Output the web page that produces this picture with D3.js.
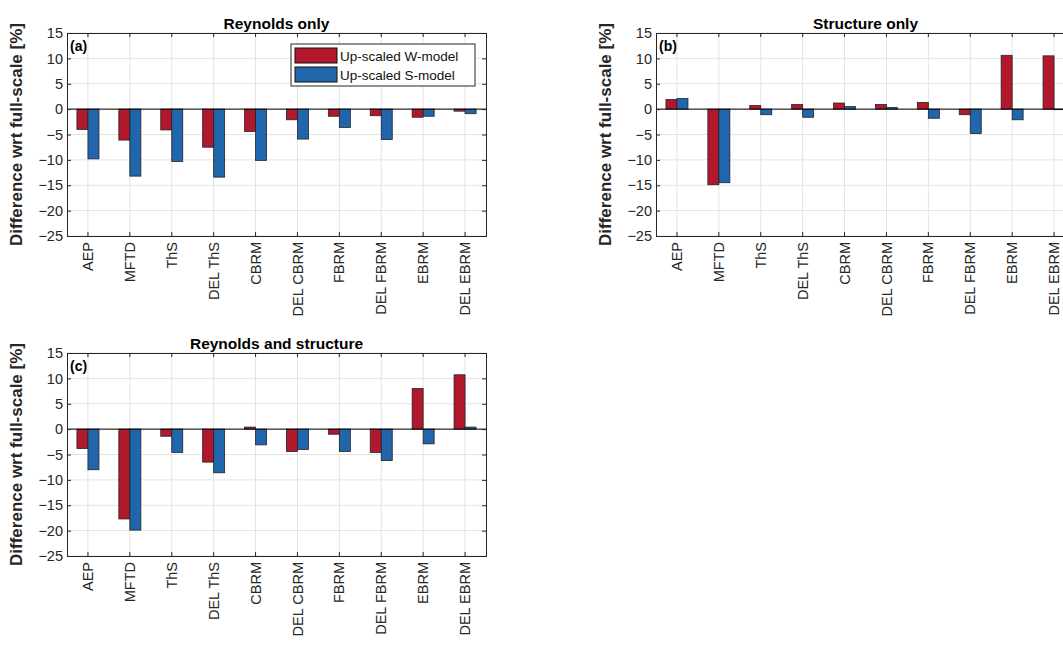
<!DOCTYPE html>
<html><head><meta charset="utf-8">
<script src="https://cdn.jsdelivr.net/npm/d3@7"></script>
<style>body{margin:0;background:#fff}svg{display:block;font-family:"Liberation Sans",Arial,sans-serif}</style>
</head><body><svg id="c" width="1063" height="647"></svg>
<script>
const categories=["AEP","MFTD","ThS","DEL ThS","CBRM","DEL CBRM","FBRM","DEL FBRM","EBRM","DEL EBRM"];
const yTicks=[15,10,5,0,-5,-10,-15,-20,-25];
const seriesNames=["Up-scaled W-model","Up-scaled S-model"];
const colors=["#B2182B","#2166AC"];
const aW=[-4,-6.1,-4.1,-7.5,-4.4,-2.1,-1.4,-1.3,-1.6,-0.4];
const aS=[-9.8,-13.2,-10.3,-13.4,-10.1,-5.9,-3.6,-6,-1.4,-0.9];
const bW=[1.9,-14.9,0.7,0.9,1.2,0.9,1.3,-1.1,10.6,10.5];
const bS=[2.1,-14.5,-1.1,-1.6,0.5,0.3,-1.8,-4.8,-2.1,-0.1];
const cW=[-3.8,-17.7,-1.4,-6.5,0.4,-4.4,-1,-4.6,8,10.7];
const cS=[-8,-19.9,-4.6,-8.6,-3.1,-4,-4.4,-6.2,-2.9,0.4];
const panels=[
 {x:67,y:33,title:"Reynolds only",tag:"(a)",data:[aW,aS],legend:true},
 {x:656,y:33,title:"Structure only",tag:"(b)",data:[bW,bS]},
 {x:67,y:353,title:"Reynolds and structure",tag:"(c)",data:[cW,cS]}
];
const svg=d3.select("#c"),W=419,H=203;
panels.forEach(p=>{
 const g=svg.append("g").attr("transform",`translate(${p.x},${p.y})`);
 const x=d3.scaleBand().domain(categories).range([0,W]);
 const y=d3.scaleLinear().domain([-25,15]).range([H,0]);
 const bw=11;
 g.append("g").selectAll("line").data(yTicks).join("line").attr("x1",0).attr("x2",W)
  .attr("y1",d=>y(d)).attr("y2",d=>y(d)).attr("stroke","#e3e3e3");
 g.append("g").selectAll("line").data(categories).join("line").attr("y1",0).attr("y2",H)
  .attr("x1",d=>x(d)+x.bandwidth()/2).attr("x2",d=>x(d)+x.bandwidth()/2).attr("stroke","#e3e3e3");
 p.data.forEach((s,si)=>{
  g.append("g").selectAll("rect").data(s).join("rect")
   .attr("x",(d,i)=>x(categories[i])+x.bandwidth()/2+(si?0:-bw))
   .attr("width",bw).attr("y",d=>y(Math.max(0,d))).attr("height",d=>Math.abs(y(d)-y(0)))
   .attr("fill",colors[si]).attr("stroke","#222").attr("stroke-width",0.8);
 });
 g.append("line").attr("x1",0).attr("x2",W).attr("y1",y(0)).attr("y2",y(0)).attr("stroke","#000");
 const ya=g.append("g").call(d3.axisLeft(y).tickValues(yTicks).tickSize(-4).tickPadding(4));
 const ya2=g.append("g").attr("transform",`translate(${W},0)`).call(d3.axisRight(y).tickValues(yTicks).tickSize(-4).tickFormat(""));
 const xa=g.append("g").attr("transform",`translate(0,${H})`).call(d3.axisBottom(x).tickSize(-4).tickPadding(0));
 const xa2=g.append("g").call(d3.axisTop(x).tickSize(-4).tickFormat(""));
 [ya,ya2,xa,xa2].forEach(a=>{a.select(".domain").attr("stroke","#262626");a.selectAll(".tick line").attr("stroke","#262626");
  a.selectAll("text").attr("fill","#262626").style("font-size","14.5px")});
 xa.selectAll("text").attr("transform","rotate(-90)").attr("text-anchor","end").attr("dx","-6").attr("dy","0.35em").attr("y",0).attr("x",0);
 g.append("text").attr("x",W/2).attr("y",-4).attr("text-anchor","middle").style("font-weight","bold").style("font-size","15.5px").text(p.title);
 g.append("text").attr("x",3).attr("y",18).style("font-weight","bold").style("font-size","14px").text(p.tag);
 g.append("text").attr("transform",`translate(-45,${H/2}) rotate(-90)`).attr("text-anchor","middle")
  .style("font-weight","bold").style("font-size","17px").attr("fill","#262626").text("Difference wrt full-scale [%]");
 if(p.legend){
  const l=g.append("g").attr("transform","translate(224,11)");
  l.append("rect").attr("width",184).attr("height",42).attr("fill","#fff").attr("stroke","#262626");
  seriesNames.forEach((n,i)=>{
   l.append("rect").attr("x",4).attr("y",4+i*19).attr("width",42).attr("height",15).attr("fill",colors[i]).attr("stroke","#111");
   l.append("text").attr("x",49).attr("y",16.5+i*19).style("font-size","13.5px").attr("fill","#111").text(n);
  });
 }
});
</script></body></html>
